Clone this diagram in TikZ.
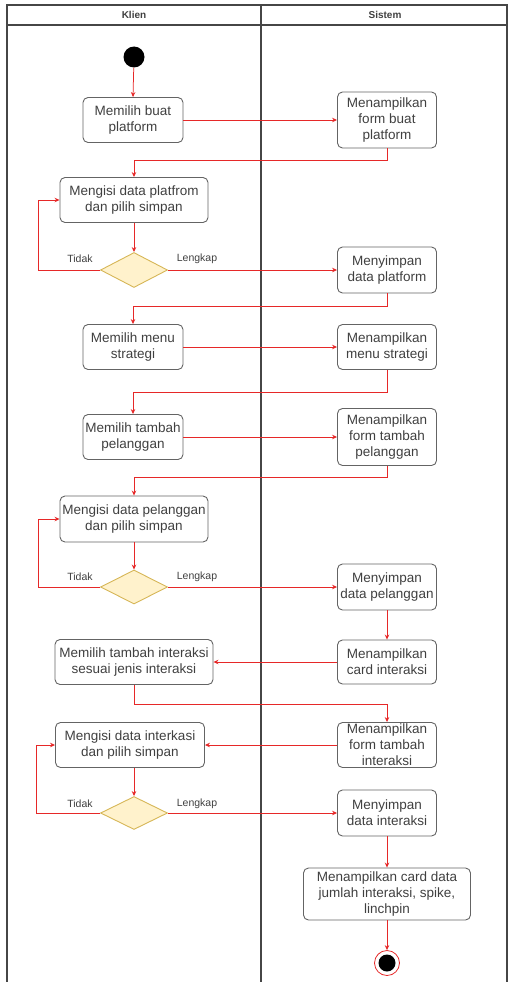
\documentclass[tikz,border=0pt]{standalone}
\usepackage{fontspec}
\setmainfont{Liberation Sans}
\usetikzlibrary{arrows.meta,shapes.geometric}
\definecolor{flowred}{RGB}{230,40,40}
\definecolor{boxgray}{RGB}{100,100,100}
\definecolor{dfill}{RGB}{255,242,204}
\definecolor{dline}{RGB}{214,182,86}
\definecolor{poolgray}{RGB}{70,70,70}
\tikzset{
  act/.style={draw=boxgray, line width=0.9pt, rounded corners=5pt, fill=white, align=center, inner sep=0pt,
    font=\fontsize{13.5}{16}\selectfont, text=black!75},
  dec/.style={diamond, draw=dline, fill=dfill, line width=0.9pt, inner sep=0pt, aspect=1.9},
  arr/.style={draw=flowred, line width=0.75pt, -{Stealth[length=5pt,width=4.5pt]}},
  lbl/.style={font=\fontsize{10.5}{12}\selectfont, text=black!75},
  hdr/.style={font=\bfseries\fontsize{10}{12}\selectfont, text=black!75},
  pool/.style={draw=poolgray, line width=1.2pt}
}
\begin{document}
\begin{tikzpicture}[x=1pt,y=-1pt]
\useasboundingbox (0,0) rectangle (509,982);
% pool
\draw[pool] (7,982) -- (7,5) -- (507,5) -- (507,982);
\draw[pool] (7,25) -- (507,25);
\draw[pool] (261,5) -- (261,982);
\node[hdr] (hk) at (134,15) {Klien};
\node[hdr] (hs) at (385,15) {Sistem};
% start
\node[circle, fill=black, minimum size=21pt, inner sep=0pt] (start) at (134,57) {};
% nodes
\node[act, minimum width=100pt, minimum height=45pt] (b1) at (133,120) {Memilih buat\\platform};
\node[act, minimum width=99pt, minimum height=56pt] (b2) at (387,120) {Menampilkan\\form buat\\platform};
\node[act, minimum width=148pt, minimum height=45pt] (b3) at (134,200) {Mengisi data platfrom\\dan pilih simpan};
\node[dec, minimum width=67pt, minimum height=35pt] (d1) at (134,270) {};
\node[act, minimum width=99pt, minimum height=46pt] (b4) at (387,270) {Menyimpan\\data platform};
\node[act, minimum width=100pt, minimum height=45pt] (b5) at (133,347) {Memilih menu\\strategi};
\node[act, minimum width=99pt, minimum height=45pt] (b6) at (387,347) {Menampilkan\\menu strategi};
\node[act, minimum width=100pt, minimum height=45pt] (b7) at (133,437) {Memilih tambah\\pelanggan};
\node[act, minimum width=99pt, minimum height=57pt] (b8) at (387,437) {Menampilkan\\form tambah\\pelanggan};
\node[act, minimum width=148pt, minimum height=46pt] (b9) at (134,519) {Mengisi data pelanggan\\dan pilih simpan};
\node[dec, minimum width=67pt, minimum height=34pt] (d2) at (134,587) {};
\node[act, minimum width=99pt, minimum height=46pt] (b10) at (387,587) {Menyimpan\\data pelanggan};
\node[act, minimum width=99pt, minimum height=44pt] (b11) at (387,662) {Menampilkan\\card interaksi};
\node[act, minimum width=158pt, minimum height=45pt] (b12) at (134,662) {Memilih tambah interaksi\\sesuai jenis interaksi};
\node[act, minimum width=99pt, minimum height=45pt] (b13) at (387,745) {Menampilkan\\form tambah\\interaksi};
\node[act, minimum width=149pt, minimum height=45pt] (b14) at (130,745) {Mengisi data interkasi\\dan pilih simpan};
\node[dec, minimum width=67pt, minimum height=33pt] (d3) at (134,813) {};
\node[act, minimum width=99pt, minimum height=46pt] (b15) at (387,813) {Menyimpan\\data interaksi};
\node[act, minimum width=167pt, minimum height=52pt] (b16) at (387,894) {Menampilkan card data\\jumlah interaksi, spike,\\linchpin};
\node[circle, draw=flowred, line width=0.8pt, fill=white, minimum size=25pt, inner sep=0pt] (endn) at (387,963) {};
\node[circle, fill=black, minimum size=17pt, inner sep=0pt] (endi) at (endn.center) {};
% connectors
\draw[arr] (start) -- (b1.north);
\draw[arr] (b1.east) -- (b2.west);
\draw[arr] (b2.south) -- ++(0,12) -| (b3.north);
\draw[arr] (b3.south) -- (d1.north);
\draw[arr] (d1.west) -- ++(-62,0) |- (b3.west);
\draw[arr] (d1.east) -- (b4.west);
\draw[arr] (b4.south) -- ++(0,13) -| (b5.north);
\draw[arr] (b5.east) -- (b6.west);
\draw[arr] (b6.south) -- ++(0,22) -| (b7.north);
\draw[arr] (b7.east) -- (b8.west);
\draw[arr] (b8.south) -- ++(0,11.5) -| (b9.north);
\draw[arr] (b9.south) -- (d2.north);
\draw[arr] (d2.west) -- ++(-62,0) |- (b9.west);
\draw[arr] (d2.east) -- (b10.west);
\draw[arr] (b10.south) -- (b11.north);
\draw[arr] (b11.west) -- (b12.east);
\draw[arr] (b12.south) -- ++(0,19.5) -| (b13.north);
\draw[arr] (b13.west) -- (b14.east);
\draw[arr] (b14.south -| d3.north) -- (d3.north);
\draw[arr] (d3.west) -- ++(-64,0) |- (b14.west);
\draw[arr] (d3.east) -- (b15.west);
\draw[arr] (b15.south) -- (b16.north);
\draw[arr] (b16.south) -- (endn.north);
% labels
\node[lbl] (t1) at (80,259) {Tidak};
\node[lbl] (l1) at (197,259) {Lengkap};
\node[lbl] (t2) at (80,577) {Tidak};
\node[lbl] (l2) at (197,577) {Lengkap};
\node[lbl] (t3) at (80,804) {Tidak};
\node[lbl] (l3) at (197,804) {Lengkap};
\end{tikzpicture}
\end{document}
